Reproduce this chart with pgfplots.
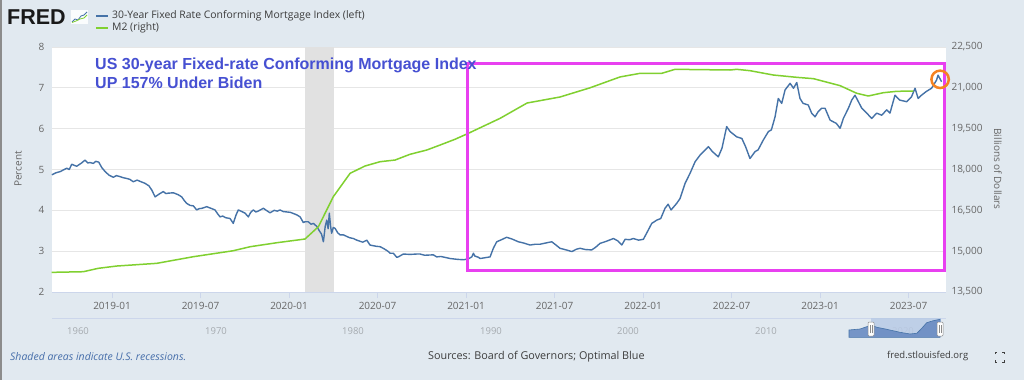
\documentclass[border=0pt]{standalone}
\usepackage{pgfplots}
\pgfplotsset{compat=1.18}
\usepackage{fontspec}
\setmainfont{Open Sans}
\newfontfamily\arialfont{Liberation Sans}
\definecolor{bgc}{RGB}{225,233,240}
\definecolor{gridc}{RGB}{230,230,230}
\definecolor{axisc}{RGB}{204,214,235}
\definecolor{labc}{RGB}{102,102,102}
\definecolor{navlab}{RGB}{165,170,175}
\definecolor{mortc}{RGB}{69,114,167}
\definecolor{m2c}{RGB}{128,208,48}
\definecolor{magc}{RGB}{232,64,240}
\definecolor{orc}{RGB}{245,130,32}
\definecolor{titc}{RGB}{70,80,210}
\definecolor{recc}{RGB}{225,225,225}
\definecolor{notec}{RGB}{70,110,170}
\definecolor{srcc}{RGB}{60,60,60}
\definecolor{navfill}{RGB}{100,135,192}
\definecolor{navsel}{RGB}{185,203,230}
\begin{document}
\begin{tikzpicture}[x=1pt,y=1pt]
\fill[bgc] (0,0) rectangle (1024,380);
\fill[black!45] (0,0) rectangle (2,380);
% ---- header: logo and legend
\node[anchor=west,inner sep=0pt,font=\arialfont\bfseries\fontsize{21.5}{22}\selectfont,text=black!90] at (7,363) {FRED};
\fill[white!85!bgc] (71,356) rectangle (88,370);
\draw[mortc,line width=0.8pt] (72,358) -- (75,361) -- (78,360) -- (81,364) -- (84,365) -- (87,368);
\draw[m2c,line width=0.8pt] (72,357.5) -- (76,359) -- (80,361) -- (84,362) -- (87,365);
\draw[mortc,line width=2pt] (96,364) -- (108,364);
\node[anchor=west,inner sep=0pt,text=srcc,font=\fontsize{10.4}{12}\selectfont] at (112,364) {30-Year Fixed Rate Conforming Mortgage Index (left)};
\draw[m2c,line width=2pt] (96,352) -- (108,352);
\node[anchor=west,inner sep=0pt,text=srcc,font=\fontsize{10.4}{12}\selectfont] at (112,352) {M2 (right)};
% ---- main axis (percent)
\begin{axis}[
  at={(52pt,88pt)}, anchor=south west, scale only axis,
  width=894pt, height=245pt,
  xmin=-4.07, xmax=56.54, ymin=2, ymax=8,
  axis background/.style={fill=white},
  separate axis lines,
  axis x line*=bottom, axis y line*=left,
  x axis line style={draw=axisc,line width=1pt,-},
  y axis line style={draw=none},
  xtick={0,6,12,18,24,30,36,42,48,54},
  xticklabels={2019-01,2019-07,2020-01,2020-07,2021-01,2021-07,2022-01,2022-07,2023-01,2023-07},
  xtick align=outside,
  major tick length=6pt,
  xtick style={draw=axisc,line width=0.8pt},
  ytick={2,3,4,5,6,7,8},
  ytick style={draw=none},
  ymajorgrids,
  grid style={draw=gridc,line width=1pt},
  /pgf/number format/assume math mode=true,
  tick label style={font=\fontsize{10}{12}\selectfont,text=labc},
  yticklabel style={xshift=-4pt},
  xticklabel style={yshift=-1pt},
  clip=false,
]
\fill[recc] (axis cs:13.1,2) rectangle (axis cs:15.07,8);
\addplot[mortc,line width=1.4pt,line join=round] coordinates {
(-4.08,4.87)(-3.8,4.92)(-3.5,4.95)(-3.3,4.99)(-3.07,5.03)(-2.9,5.00)(-2.73,5.13)(-2.55,5.10)(-2.4,5.08)(-2.1,5.15)(-1.83,5.23)(-1.65,5.16)(-1.5,5.17)(-1.27,5.15)(-1.1,5.20)(-0.9,5.18)(-0.7,5.05)(-0.47,4.95)(-0.2,4.86)(0.09,4.81)(0.3,4.85)(0.5,4.83)(0.75,4.80)(1.0,4.78)(1.2,4.76)(1.44,4.70)(1.7,4.74)(1.9,4.71)(2.24,4.66)(2.5,4.60)(2.69,4.50)(2.92,4.33)(3.2,4.40)(3.48,4.46)(3.65,4.41)(3.8,4.42)(4.16,4.43)(4.5,4.38)(4.72,4.33)(4.9,4.24)(5.06,4.17)(5.3,4.12)(5.51,4.11)(5.74,4.01)(5.9,4.04)(6.1,4.05)(6.42,4.09)(6.7,4.05)(6.98,4.01)(7.15,3.92)(7.32,3.84)(7.5,3.86)(7.7,3.82)(8.0,3.80)(8.22,3.68)(8.4,3.88)(8.56,4.01)(8.8,3.97)(9.02,3.93)(9.24,3.84)(9.4,3.95)(9.58,4.01)(9.75,3.96)(9.9,3.98)(10.26,4.05)(10.5,3.99)(10.71,3.94)(11.0,4.00)(11.2,3.98)(11.39,4.01)(11.61,3.97)(12.1,3.95)(12.52,3.89)(12.75,3.84)(12.97,3.70)(13.08,3.72)(13.3,3.72)(13.5,3.66)(13.65,3.68)(13.9,3.60)(14.05,3.50)(14.2,3.42)(14.33,3.23)(14.45,3.60)(14.56,3.76)(14.65,3.55)(14.73,3.93)(14.82,3.60)(14.89,3.44)(15.0,3.58)(15.12,3.56)(15.3,3.45)(15.46,3.40)(15.68,3.40)(16.1,3.33)(16.36,3.31)(16.59,3.27)(17.0,3.22)(17.27,3.27)(17.49,3.15)(17.9,3.12)(18.17,3.11)(18.39,3.07)(18.7,3.00)(18.85,2.95)(19.07,2.95)(19.3,2.85)(19.41,2.86)(19.75,2.93)(20.2,2.92)(20.66,2.93)(20.88,2.93)(21.2,2.90)(21.78,2.91)(22.01,2.86)(22.3,2.87)(22.92,2.82)(23.4,2.80)(23.82,2.79)(24.0,2.80)(24.2,2.82)(24.39,2.86)(24.5,2.95)(24.6,2.88)(24.84,2.85)(24.95,2.82)(25.3,2.84)(25.63,2.86)(25.85,3.07)(26.08,3.23)(26.4,3.28)(26.75,3.34)(27.1,3.30)(27.55,3.23)(27.9,3.20)(28.34,3.15)(28.7,3.17)(29.02,3.17)(29.4,3.20)(29.81,3.23)(30.1,3.15)(30.37,3.07)(30.8,3.03)(31.17,2.99)(31.5,3.05)(31.73,3.07)(32.1,3.04)(32.52,3.03)(32.8,3.10)(33.08,3.19)(33.5,3.24)(33.99,3.31)(34.3,3.25)(34.56,3.15)(34.78,3.29)(35.1,3.28)(35.34,3.31)(35.7,3.27)(36.02,3.29)(36.36,3.52)(36.59,3.68)(36.93,3.76)(37.2,3.80)(37.49,4.05)(37.7,4.15)(37.9,4.01)(38.28,4.17)(38.51,4.29)(38.85,4.66)(39.19,4.91)(39.53,5.19)(39.86,5.35)(40.1,5.44)(40.43,5.56)(40.7,5.44)(41.1,5.31)(41.35,5.52)(41.67,6.05)(41.9,5.93)(42.35,5.80)(42.7,5.76)(42.95,5.56)(43.25,5.27)(43.6,5.44)(43.8,5.48)(44.15,5.72)(44.5,5.93)(44.7,5.97)(44.95,6.29)(45.17,6.74)(45.4,6.62)(45.63,6.95)(45.97,7.11)(46.2,6.99)(46.42,7.13)(46.64,6.74)(46.85,6.62)(47.2,6.58)(47.43,6.38)(47.66,6.29)(47.88,6.42)(48.1,6.50)(48.34,6.50)(48.68,6.21)(49.1,6.13)(49.36,6.01)(49.58,6.25)(49.92,6.50)(50.15,6.70)(50.37,6.82)(50.6,6.66)(50.83,6.50)(51.17,6.38)(51.5,6.25)(51.84,6.38)(52.18,6.33)(52.52,6.46)(52.74,6.38)(53.08,6.82)(53.4,6.70)(53.88,6.66)(54.2,6.78)(54.44,6.99)(54.65,6.74)(54.88,6.82)(55.2,6.91)(55.56,6.99)(55.9,7.19)(56.0,7.31)(56.24,7.15)
};
\end{axis}
% ---- right axis (M2)
\begin{axis}[
  at={(52pt,88pt)}, anchor=south west, scale only axis,
  width=894pt, height=245pt,
  xmin=-4.07, xmax=56.54, ymin=13500, ymax=22500,
  axis x line=none, axis y line*=right,
  y axis line style={draw=none},
  ytick={13500,15000,16500,18000,19500,21000,22500},
  ytick style={draw=none},
  /pgf/number format/.cd, 1000 sep={,}, assume math mode=true, /pgfplots/.cd,
  scaled y ticks=false,
  yticklabel style={font=\fontsize{10}{12}\selectfont,text=labc,xshift=2pt},
  clip=false,
]
\addplot[m2c,line width=1.5pt,line join=round] coordinates {
(-4.09,14222)(-1.95,14245)(-0.93,14370)(0.32,14454)(3.03,14553)(5.51,14796)(8.22,15016)(9.36,15163)(11.17,15310)(13.08,15446)(13.99,15898)(15.0,17000)(16.14,17860)(17.15,18128)(18.17,18286)(19.19,18348)(20.2,18558)(21.34,18716)(22.12,18874)(23.25,19109)(24.16,19330)(26.31,19880)(28.14,20443)(30.37,20663)(32.4,21000)(34.44,21400)(35.8,21533)(37.27,21533)(38.17,21680)(41.9,21655)(42.35,21680)(43.25,21630)(44.83,21471)(46.42,21386)(47.55,21337)(49.36,21080)(50.49,20799)(51.27,20700)(52.29,20821)(53.2,20872)(54.33,20883)
};
\draw[magc,line width=3pt] (axis cs:24.09,14307) rectangle (axis cs:56.44,21901);
\draw[orc,line width=2.5pt] (axis cs:56.14,21313) circle[radius=8.7pt];
\end{axis}
% ---- axis titles
\node[rotate=90,text=labc,font=\fontsize{10}{12}\selectfont] at (18,211) {Percent};
\node[rotate=-90,text=labc,font=\fontsize{10}{12}\selectfont] at (998,211) {Billions of Dollars};
% ---- annotation text
\node[anchor=base west,inner sep=0pt,text=titc,font=\arialfont\bfseries\fontsize{16}{18}\selectfont] at (95,310) {US 30-year Fixed-rate Conforming Mortgage Index};
\node[anchor=base west,inner sep=0pt,text=titc,font=\arialfont\bfseries\fontsize{16}{18}\selectfont] at (95,291.7) {UP 157\% Under Biden};
% ---- navigator
\draw[axisc,line width=1pt] (52,62) -- (946,62);
\foreach \yr/\xx in {1960/78,1970/216,1980/353,1990/491,2000/628,2010/766,2020/903}
  \node[text=navlab,font=\fontsize{9.5}{11}\selectfont] at (\xx,49) {\yr};
\begin{axis}[
  at={(849pt,42.7pt)}, anchor=south west, scale only axis,
  width=92pt, height=19.3pt, hide axis,
  xmin=2016.07, xmax=2022.76, ymin=0, ymax=8, clip=false,
]
\fill[navsel,opacity=0.85] (axis cs:2017.67,0) rectangle (axis cs:2022.76,8);
\addplot[fill=navfill,draw=mortc,line width=0.6pt,fill opacity=0.85] coordinates {
(2016.07,3.03)(2016.87,3.44)(2017.36,4.39)(2017.67,5.1)(2018.09,4.15)(2018.81,3.32)(2019.78,2.07)(2020.51,1.37)(2021.0,1.66)(2021.36,3.73)(2021.72,6.05)(2022.2,6.88)(2022.69,7.46)
} \closedcycle;
\end{axis}
\foreach \hx in {871,940}{
  \filldraw[fill=white,draw=black!45,line width=0.5pt,rounded corners=1pt] (\hx-3,44) rectangle (\hx+3,58);
  \draw[black!45,line width=0.4pt] (\hx-1,47) -- (\hx-1,55) (\hx+1,47) -- (\hx+1,55);
}
% ---- footer
\node[anchor=west,inner sep=0pt,text=notec,font=\itshape\fontsize{10.5}{12}\selectfont] at (10,23) {Shaded areas indicate U.S. recessions.};
\node[anchor=west,inner sep=0pt,text=srcc,font=\fontsize{10.8}{12}\selectfont] at (428,23.5) {Sources: Board of Governors; Optimal Blue};
\node[anchor=west,inner sep=0pt,text=srcc,font=\fontsize{9.5}{11}\selectfont] at (887,23.5) {fred.stlouisfed.org};
\draw[black!75,line width=1pt] (995,26) -- (995,28) -- (997,28) (1002,28) -- (1004,28) -- (1004,26) (995,20) -- (995,18) -- (997,18) (1002,18) -- (1004,18) -- (1004,20);
\end{tikzpicture}
\end{document}
